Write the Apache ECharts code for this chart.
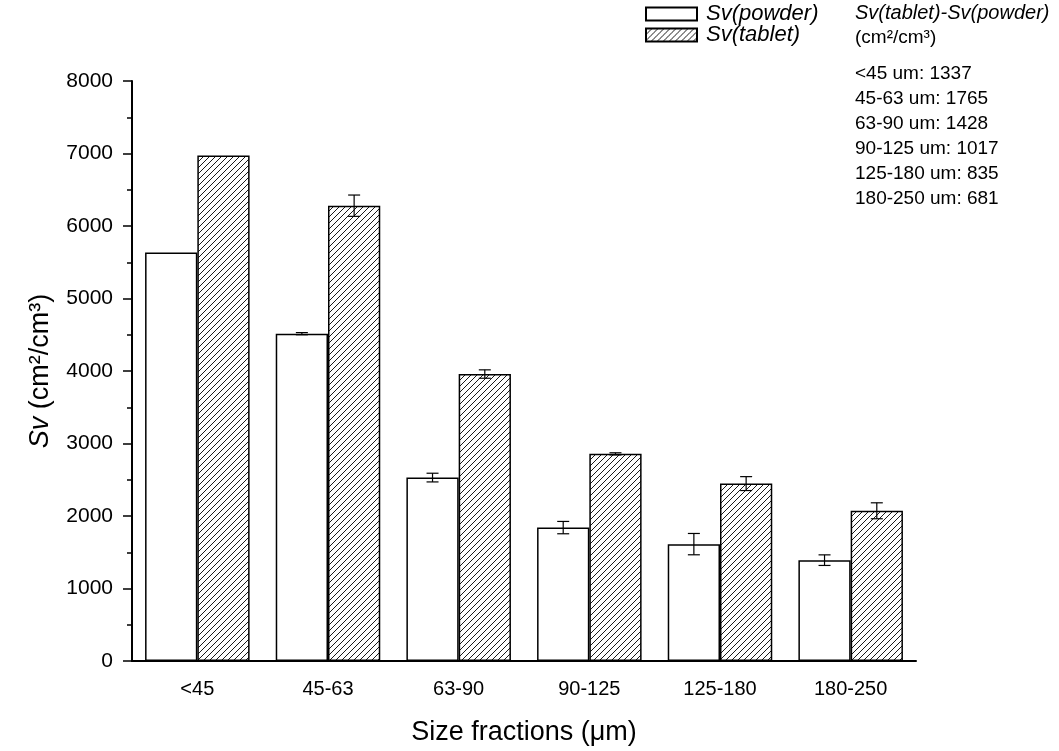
<!DOCTYPE html>
<html><head><meta charset="utf-8">
<script src="https://cdn.jsdelivr.net/npm/echarts@6/dist/echarts.min.js"></script>
<style>html,body{margin:0;padding:0;background:#fff}#c{width:1059px;height:751px}</style>
</head><body><div id="c"></div>
<script>
const categories = ['<45', '45-63', '63-90', '90-125', '125-180', '180-250'];
const powder = [5636, 4515, 2530, 1840, 1612, 1391];
const powderErr = [0, 15, 60, 85, 147, 73];
const tablet = [6973, 6280, 3958, 2857, 2447, 2072];
const tabletErr = [0, 147, 58, 15, 96, 110];
const diffTitle = 'Sv(tablet)-Sv(powder)';
const diffUnit = '(cm²/cm³)';
const diffLines = ['<45 um: 1337', '45-63 um: 1765', '63-90 um: 1428', '90-125 um: 1017', '125-180 um: 835', '180-250 um: 681'];

function hatch() {
  const s = 6;
  const c = document.createElement('canvas');
  c.width = s; c.height = s;
  const g = c.getContext('2d');
  g.fillStyle = '#fff'; g.fillRect(0, 0, s, s);
  g.strokeStyle = '#000'; g.lineWidth = 0.9;
  g.beginPath();
  g.moveTo(0, s); g.lineTo(s, 0);
  g.moveTo(-1, 1); g.lineTo(1, -1);
  g.moveTo(s - 1, s + 1); g.lineTo(s + 1, s - 1);
  g.stroke();
  return c;
}
const pat = { image: hatch(), repeat: 'repeat' };

function errSeries(vals, errs, off) {
  return {
    type: 'custom',
    silent: true,
    z: 10,
    data: vals.map((v, i) => [i, v, errs[i]]),
    renderItem: function (params, api) {
      const i = api.value(0), v = api.value(1), e = api.value(2);
      if (!e) return null;
      const band = api.size([1, 0])[0];
      const x = api.coord([i, v])[0] + off * band;
      const yt = api.coord([i, v + e])[1];
      const yb = api.coord([i, v - e])[1];
      const w = 6;
      const st = { stroke: '#000', lineWidth: 1.2 };
      return { type: 'group', children: [
        { type: 'line', shape: { x1: x, y1: yt, x2: x, y2: yb }, style: st },
        { type: 'line', shape: { x1: x - w, y1: yt, x2: x + w, y2: yt }, style: st },
        { type: 'line', shape: { x1: x - w, y1: yb, x2: x + w, y2: yb }, style: st }
      ] };
    }
  };
}

const chart = echarts.init(document.getElementById('c'), null, { renderer: 'canvas' });
const font = 'Liberation Sans, Arial, sans-serif';
const graphics = [
  { type: 'text', left: 855, top: 3, style: { text: diffTitle, font: 'italic 20px ' + font, fill: '#000' } },
  { type: 'text', left: 855, top: 28, style: { text: diffUnit, font: '19px ' + font, fill: '#000' } }
];
diffLines.forEach((t, k) => {
  graphics.push({ type: 'text', left: 855, top: 64 + k * 25, style: { text: t, font: '19px ' + font, fill: '#000' } });
});

const legendBase = {
  orient: 'vertical', left: 645, padding: 0, itemWidth: 51, itemHeight: 13, icon: 'rect',
  textStyle: { fontStyle: 'italic', fontSize: 22, color: '#000', lineHeight: 16, padding: [0, 0, 0, 4] }
};

chart.setOption({
  animation: false,
  backgroundColor: '#fff',
  textStyle: { fontFamily: font, color: '#000' },
  grid: { left: 132, right: 143, top: 81, bottom: 89, containLabel: false },
  legend: [
    Object.assign({}, legendBase, { top: 3, data: ['Sv(powder)'] }),
    Object.assign({}, legendBase, { top: 24, data: ['Sv(tablet)'] })
  ],
  xAxis: {
    type: 'category', data: categories,
    name: 'Size fractions (μm)', nameLocation: 'middle', nameGap: 58,
    nameTextStyle: { fontSize: 27, color: '#000' },
    axisLine: { lineStyle: { color: '#000', width: 2 } },
    axisTick: { alignWithLabel: true, length: 11, lineStyle: { color: '#000', width: 1.5 } },
    axisLabel: { fontSize: 20, color: '#000', margin: 18 }
  },
  yAxis: {
    type: 'value', min: 0, max: 8000, interval: 1000,
    name: '{it|Sv} (cm²/cm³)', nameLocation: 'middle', nameGap: 78,
    nameTextStyle: { fontSize: 27, color: '#000', rich: { it: { fontStyle: 'italic', fontSize: 27 } } },
    axisLine: { show: true, lineStyle: { color: '#000', width: 2 } },
    axisTick: { show: true, length: 9, lineStyle: { color: '#000', width: 1.5 } },
    minorTick: { show: true, splitNumber: 2, length: 5, lineStyle: { color: '#000', width: 1.5 } },
    splitLine: { show: false },
    axisLabel: { fontSize: 21, color: '#000', margin: 19, formatter: v => String(v) }
  },
  series: [
    { name: 'Sv(powder)', type: 'bar', data: powder, barGap: '0%', barCategoryGap: '20%',
      itemStyle: { color: '#fff', borderColor: '#000', borderWidth: 1.5 } },
    { name: 'Sv(tablet)', type: 'bar', data: tablet, barGap: '0%', barCategoryGap: '20%',
      itemStyle: { color: pat, borderColor: '#000', borderWidth: 1.5 } },
    errSeries(powder, powderErr, -0.2),
    errSeries(tablet, tabletErr, 0.2)
  ],
  graphic: graphics
});
</script>
</body></html>
